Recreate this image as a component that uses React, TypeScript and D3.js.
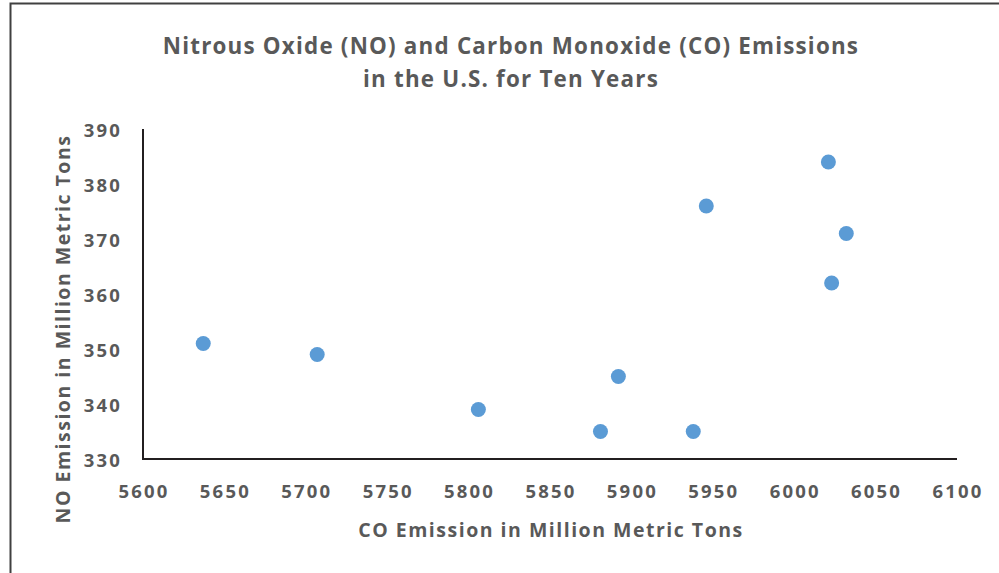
import React from "react";
import * as d3 from "d3";

const coEmission = [5637, 5707, 5806, 5881, 5892, 5938, 5946, 6021, 6023, 6032];
const noEmission = [351, 349, 339, 335, 345, 335, 376, 384, 362, 371];
const xTicks = [5600, 5650, 5700, 5750, 5800, 5850, 5900, 5950, 6000, 6050, 6100];
const yTicks = [330, 340, 350, 360, 370, 380, 390];
const titleLines = [
  "Nitrous Oxide (NO) and Carbon Monoxide (CO) Emissions",
  "in the U.S. for Ten Years",
];
const xTitle = "CO Emission in Million Metric Tons";
const yTitle = "NO Emission in Million Metric Tons";

const W = 999;
const H = 573;
const FONT = "'Open Sans', 'DejaVu Sans', sans-serif";
const TEXT = "#595959";

export default function App() {
  const x = d3.scaleLinear().domain([5600, 6100]).range([143, 957]);
  const y = d3.scaleLinear().domain([330, 390]).range([459, 129]);
  const points = coEmission.map((c, i) => ({ c, n: noEmission[i] }));

  return (
    <svg
      width={W}
      height={H}
      style={{ position: "fixed", left: 0, top: 0, background: "#fff" }}
    >
      <rect x={0} y={0} width={W} height={H} fill="#fff" />
      <path d={`M10.5,${H} V3.5 H${W}`} fill="none" stroke="#404040" strokeWidth={2} />
      {titleLines.map((t, i) => (
        <text
          key={i}
          x={511}
          y={45 + i * 33}
          textAnchor="middle"
          dominantBaseline="central"
          fontFamily={FONT}
          fontWeight="bold"
          fontSize={22.4}
          letterSpacing={1.2}
          fill={TEXT}
        >
          {t}
        </text>
      ))}
      <line x1={x(5600)} x2={x(5600)} y1={y(390)} y2={y(330) + 1} stroke="#231f20" strokeWidth={2} />
      <line x1={x(5600) - 1} x2={x(6100)} y1={y(330)} y2={y(330)} stroke="#231f20" strokeWidth={2} />
      {yTicks.map((t) => (
        <text
          key={t}
          x={122}
          y={y(t)}
          textAnchor="end"
          dominantBaseline="central"
          fontFamily={FONT}
          fontWeight="bold"
          fontSize={18.5}
          letterSpacing={2.2}
          fill={TEXT}
        >
          {t}
        </text>
      ))}
      {xTicks.map((t) => (
        <text
          key={t}
          x={x(t) + 1}
          y={490}
          textAnchor="middle"
          dominantBaseline="central"
          fontFamily={FONT}
          fontWeight="bold"
          fontSize={18.5}
          letterSpacing={2.2}
          fill={TEXT}
        >
          {t}
        </text>
      ))}
      <text
        x={551}
        y={529}
        textAnchor="middle"
        dominantBaseline="central"
        fontFamily={FONT}
        fontWeight="bold"
        fontSize={19.5}
        letterSpacing={1.5}
        fill={TEXT}
      >
        {xTitle}
      </text>
      <text
        transform={`translate(62,329) rotate(-90)`}
        textAnchor="middle"
        dominantBaseline="central"
        fontFamily={FONT}
        fontWeight="bold"
        fontSize={19.5}
        letterSpacing={1.5}
        fill={TEXT}
      >
        {yTitle}
      </text>
      {points.map((p, i) => (
        <circle key={i} cx={x(p.c)} cy={y(p.n)} r={7.5} fill="#5b9bd5" />
      ))}
    </svg>
  );
}
